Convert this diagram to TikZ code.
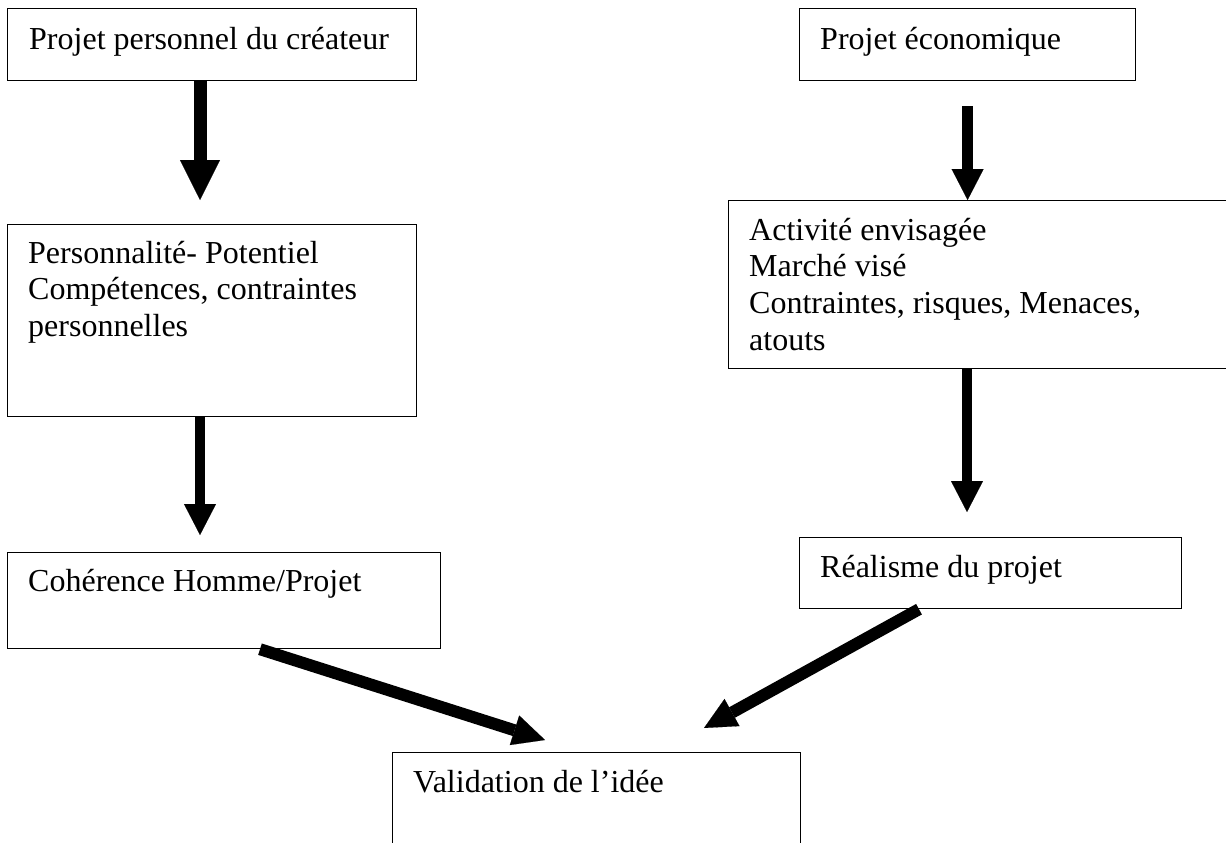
\documentclass[tikz,border=0pt]{standalone}
\usepackage{fontspec}
\setmainfont{Liberation Serif}
\usetikzlibrary{arrows.meta,calc}
\begin{document}
\begin{tikzpicture}[x=1pt,y=-1pt,
  box/.style={draw=black, line width=1.2pt, rectangle, inner sep=0pt, anchor=north west},
  txt/.style={anchor=base west, inner sep=0pt, font=\fontsize{32}{36.7}\selectfont},
  arrowbig/.style={line width=13pt, -{Triangle[length=40pt,width=40pt,line width=0.1pt]}},
  arrowmid/.style={line width=10.5pt, -{Triangle[length=31pt,width=32pt,line width=0.1pt]}},
  arrowdiag/.style={line width=12pt, -{Triangle[length=32pt,width=31pt,line width=0.1pt]}}
]
\useasboundingbox (0,0) rectangle (1226,843);

% boxes
\node[box, minimum width=409pt, minimum height=72pt] (b1) at (7,8) {};
\node[box, minimum width=336pt, minimum height=72pt] (b2) at (799,8) {};
\node[box, minimum width=409pt, minimum height=192pt] (b3) at (7,224) {};
\node[box, minimum width=520pt, minimum height=168pt] (b4) at (728,200) {};
\node[box, minimum width=433pt, minimum height=96pt] (b5) at (7,552) {};
\node[box, minimum width=382pt, minimum height=71pt] (b6) at (799,537) {};
\node[box, minimum width=408pt, minimum height=120pt] (b7) at (392,752) {};

% texts
\node[txt] (t1) at ($(b1.north west)+(22,42)$) {Projet personnel du créateur};
\node[txt] (t2) at ($(b2.north west)+(21,41)$) {Projet économique};
\node[txt] (t3) at ($(b3.north west)+(21,39)$) {\parbox[t]{400pt}{Personnalité- Potentiel\\Compétences, contraintes\\personnelles}};
\node[txt] (t4) at ($(b4.north west)+(21,40)$) {\parbox[t]{480pt}{Activité envisagée\\Marché visé\\Contraintes, risques, Menaces,\\atouts}};
\node[txt] (t5) at ($(b5.north west)+(21,39)$) {Cohérence Homme/Projet};
\node[txt] (t6) at ($(b6.north west)+(21,40)$) {Réalisme du projet};
\node[txt] (t7) at ($(b7.north west)+(21,40)$) {Validation de l’idée};

% connector end points
\coordinate (e1) at ($(b3.north west)+(193,-24)$);
\coordinate (s2) at ($(b2.south)+(0,25)$);
\coordinate (e3) at ($(b5.north west)+(193,-17)$);
\coordinate (e4) at ($(b6.north west)+(168,-25)$);
\coordinate (s5) at ($(b5.south west)+(253,0)$);
\coordinate (e5) at ($(b7.north west)+(153,-12)$);
\coordinate (s6) at ($(b6.south west)+(120,0)$);
\coordinate (e6) at ($(b7.north west)+(312,-24)$);

% connectors
\draw[arrowbig] (b1.south -| e1) -- (e1);
\draw[arrowmid] (s2) -- (b4.north -| s2);
\draw[arrowmid] (b3.south -| e3) -- (e3);
\draw[arrowmid] (b4.south -| e4) -- (e4);
\draw[arrowdiag] (s5) -- (e5);
\draw[arrowdiag] (s6) -- (e6);
\end{tikzpicture}
\end{document}
